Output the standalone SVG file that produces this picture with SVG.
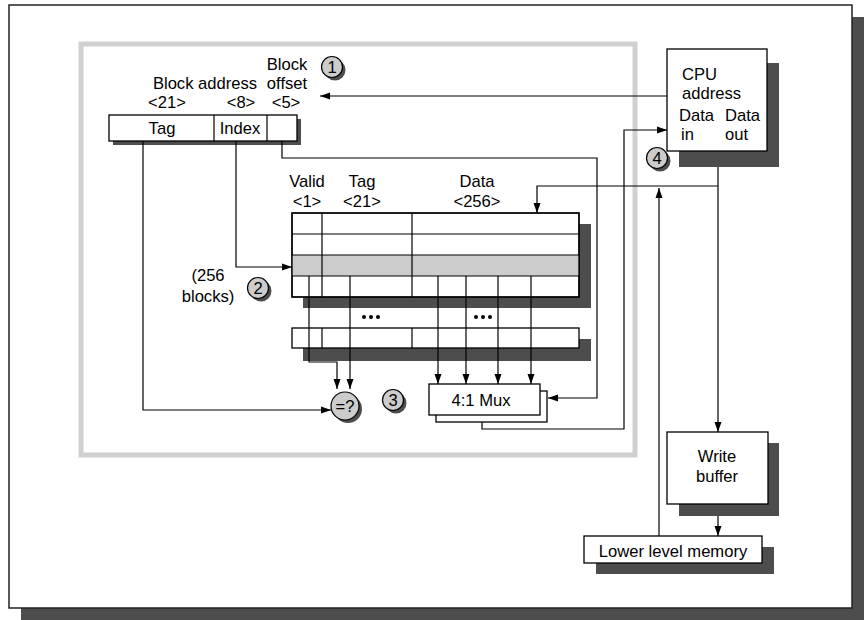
<svg xmlns="http://www.w3.org/2000/svg" width="868" height="620" viewBox="0 0 868 620">
<style>
.t{font-family:"Liberation Sans",Arial,sans-serif;font-size:16.6px;fill:#000}
.c{text-anchor:middle}
.box{fill:#fff;stroke:#000;stroke-width:1.3}
.sh{fill:#4d4d4d;stroke:none}
.w{fill:none;stroke:#000;stroke-width:1.2}
.a{marker-end:url(#arr)}
.badge{fill:#ccc;stroke:#000;stroke-width:1.2}
.dot{fill:#000}
</style>
<defs>
<marker id="arr" markerWidth="10" markerHeight="8" refX="10" refY="4" orient="auto" markerUnits="userSpaceOnUse">
<path d="M0,0.5 L10,4 L0,7.5 z" fill="#000"/>
</marker>
</defs>
<rect width="868" height="620" fill="#fff"/>
<g id="frame">
<rect class="sh" x="21" y="17" width="843" height="603"/>
<rect x="9" y="5" width="843" height="603" fill="#fff" stroke="#222" stroke-width="1.5"/>
</g>
<g id="cache-boundary">
<rect x="81" y="44" width="554" height="411" fill="none" stroke="#d0d0d0" stroke-width="5"/>
</g>
<g id="address-register">
<rect class="sh" x="113" y="119" width="188" height="26"/>
<rect class="box" x="109" y="115" width="188" height="26"/>
<line class="w" x1="214" y1="115" x2="214" y2="141"/>
<line class="w" x1="267" y1="115" x2="267" y2="141"/>
<text class="t c" x="162" y="134">Tag</text>
<text class="t c" x="240" y="134">Index</text>
<text class="t c" x="205" y="89">Block address</text>
<text class="t c" x="287" y="70">Block</text>
<text class="t c" x="287" y="89">offset</text>
<text class="t c" x="167" y="108">&lt;21&gt;</text>
<text class="t c" x="241" y="108">&lt;8&gt;</text>
<text class="t c" x="286" y="108">&lt;5&gt;</text>
</g>
<g id="cache-array">
<rect class="sh" x="303" y="224" width="288" height="84"/>
<rect class="box" x="292" y="213" width="287" height="84"/>
<rect x="292" y="255" width="287" height="21" fill="#ccc"/>
<line class="w" x1="292" y1="234" x2="579" y2="234"/>
<line class="w" x1="292" y1="255" x2="579" y2="255"/>
<line class="w" x1="292" y1="276" x2="579" y2="276"/>
<line class="w" x1="322" y1="213" x2="322" y2="297"/>
<line class="w" x1="412" y1="213" x2="412" y2="297"/>
<rect x="292" y="213" width="287" height="84" fill="none" stroke="#000" stroke-width="1.3"/>
<rect class="sh" x="303" y="339" width="288" height="22"/>
<rect class="box" x="292" y="328" width="287" height="20"/>
<line class="w" x1="322" y1="328" x2="322" y2="348"/>
<line class="w" x1="412" y1="328" x2="412" y2="348"/>
<circle class="dot" cx="364" cy="317" r="2"/>
<circle class="dot" cx="371" cy="317" r="2"/>
<circle class="dot" cx="378" cy="317" r="2"/>
<circle class="dot" cx="476" cy="317" r="2"/>
<circle class="dot" cx="483" cy="317" r="2"/>
<circle class="dot" cx="490" cy="317" r="2"/>
<text class="t c" x="307" y="187">Valid</text>
<text class="t c" x="362" y="187">Tag</text>
<text class="t c" x="477" y="187">Data</text>
<text class="t c" x="307" y="207">&lt;1&gt;</text>
<text class="t c" x="362" y="207">&lt;21&gt;</text>
<text class="t c" x="477" y="207">&lt;256&gt;</text>
<text class="t c" x="208" y="281">(256</text>
<text class="t c" x="208" y="302">blocks)</text>
</g>
<g id="connectors">
<polyline class="w a" points="667,96 320,96"/>
<polyline class="w a" points="143,141 143,410 331,410"/>
<polyline class="w a" points="236,141 236,267 292,267"/>
<polyline class="w a" points="282,141 282,158 597,158 597,398 548,398"/>
<polyline class="w a" points="309,276 309,362 337,362 337,389"/>
<polyline class="w a" points="350,276 350,389"/>
<polyline class="w a" points="438,276 438,384"/>
<polyline class="w a" points="466,276 466,384"/>
<polyline class="w a" points="498,276 498,384"/>
<polyline class="w a" points="531,276 531,384"/>
<polyline class="w a" points="482,415 482,429 624,429 624,130 667,130"/>
<polyline class="w a" points="718,167 718,432"/>
<polyline class="w a" points="718,186 537,186 537,213"/>
<polyline class="w a" points="718,504 718,536"/>
<polyline class="w a" points="659,536 659,188"/>
</g>
<g id="mux">
<rect class="box" x="436" y="391" width="111" height="31"/>
<rect class="box" x="429" y="384" width="111" height="31"/>
<text class="t c" x="481" y="406">4:1 Mux</text>
</g>
<g id="compare">
<circle class="sh" cx="348" cy="409" r="14"/>
<circle class="badge" cx="345" cy="406" r="14"/>
<text class="t c" x="345" y="412">=?</text>
</g>
<g id="cpu">
<rect class="sh" x="679" y="63" width="100" height="104"/>
<rect class="box" x="667" y="49" width="100" height="102"/>
<text class="t" x="682" y="80">CPU</text>
<text class="t" x="682" y="99">address</text>
<text class="t" x="679" y="121">Data</text>
<text class="t" x="725" y="121">Data</text>
<text class="t" x="681" y="140">in</text>
<text class="t" x="725" y="140">out</text>
</g>
<g id="write-buffer">
<rect class="sh" x="679" y="443" width="100" height="73"/>
<rect class="box" x="667" y="432" width="101" height="72"/>
<text class="t c" x="717" y="462">Write</text>
<text class="t c" x="717" y="482">buffer</text>
</g>
<g id="lower-memory">
<rect class="sh" x="596" y="547" width="178" height="27"/>
<rect class="box" x="584" y="536" width="178" height="27"/>
<text class="t c" x="673" y="557">Lower level memory</text>
</g>
<g id="step1">
<circle class="sh" cx="335" cy="70" r="10.5"/>
<circle class="badge" cx="332" cy="67" r="10.5"/>
<text class="t c" x="332" y="73">1</text>
</g>
<g id="step2">
<circle class="sh" cx="261" cy="291" r="10.5"/>
<circle class="badge" cx="258" cy="288" r="10.5"/>
<text class="t c" x="258" y="294">2</text>
</g>
<g id="step3">
<circle class="sh" cx="396" cy="403" r="10.5"/>
<circle class="badge" cx="393" cy="400" r="10.5"/>
<text class="t c" x="393" y="406">3</text>
</g>
<g id="step4">
<circle class="sh" cx="660" cy="161" r="10.5"/>
<circle class="badge" cx="657" cy="158" r="10.5"/>
<text class="t c" x="657" y="164">4</text>
</g>
</svg>
